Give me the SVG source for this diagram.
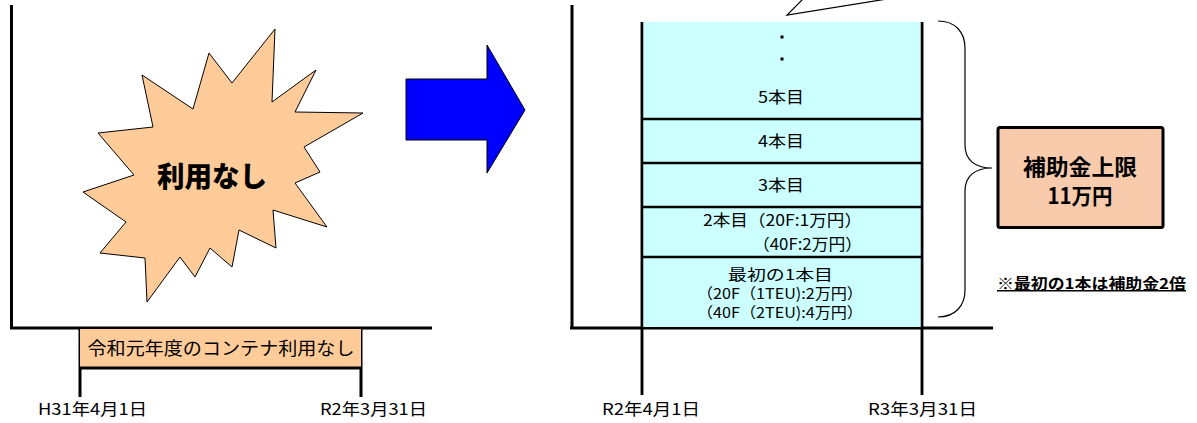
<svg xmlns="http://www.w3.org/2000/svg" width="1197" height="423" viewBox="0 0 1197 423">
<style>
text{font-family:"Noto Sans CJK JP","Liberation Sans",sans-serif;fill:#000}
.t16{font-size:16px}
.t15{font-size:15px}
.lbl{font-size:16px}
.ax{stroke:#000;stroke-width:3;fill:none}
.col{stroke:#000;stroke-width:2.5;fill:none}
.thin{stroke:#000;stroke-width:1.2;fill:none}
.mid{text-anchor:middle}
.b{font-weight:bold}
</style>
<rect width="1197" height="423" fill="#fff"/>
<g id="connectors">
<path class="ax" d="M11.5,5 V328 M10,328 H432"/>
<path class="ax" d="M80,328 V397 M361,328 V397"/>
<path class="ax" d="M572,5 V328 M570,328 H993"/>
<path class="col" d="M642,22 V395 M922,22 V395"/>
<path class="thin" d="M803,-1 L787,15 L887,-1"/>
<path class="thin" d="M938,21 C955,21 965,32 965,48 L965,145 C965,160 975,168 992,168 C975,168 965,176 965,191 L965,290 C965,306 955,317 938,317"/>
</g>
<g id="burst">
<polygon points="275,29 272,102 316,70 295,112 363,113 304,147 320,172 295,183 327,227 273,210 276,248 239,230 232,267 210,248 195,277 180,257 147,302 145,258 100,253 126,222 83,192 134,175 98,133 153,127 142,75 193,109 209,53 232,83" fill="#FFCC99" stroke="#000" stroke-width="1"/>
<text x="212" y="187" class="mid" font-weight="900" font-size="28" textLength="110" lengthAdjust="spacingAndGlyphs">利用なし</text>
</g>
<g id="nouse-bar">
<rect x="80" y="329" width="281" height="39" fill="#FFCC99"/>
<path class="ax" d="M80,368 H361"/>
<text x="221" y="355" class="mid" font-size="18" textLength="267" lengthAdjust="spacingAndGlyphs">令和元年度のコンテナ利用なし</text>
</g>
<g id="dates-left">
<text x="38" y="415" class="lbl" textLength="109" lengthAdjust="spacingAndGlyphs">H31年4月1日</text>
<text x="320" y="415" class="lbl" textLength="107" lengthAdjust="spacingAndGlyphs">R2年3月31日</text>
</g>
<g id="arrow">
<polygon points="406,79 487,79 487,45 525,110 487,173 487,140 406,140" fill="#0000FF" stroke="#000" stroke-width="1"/>
</g>
<g id="column">
<rect x="643" y="22" width="278" height="305" fill="#CCFFFF"/>
<path class="col" d="M642,22 V395 M922,22 V395 M642,119 H922 M642,163 H922 M642,207 H922 M642,257 H922"/>
<rect x="780.5" y="35.5" width="3" height="3" fill="#000"/>
<rect x="780.5" y="57.5" width="3" height="3" fill="#000"/>
<text x="781" y="103" class="t16 mid" textLength="46" lengthAdjust="spacingAndGlyphs">5本目</text>
<text x="781" y="147" class="t16 mid" textLength="46" lengthAdjust="spacingAndGlyphs">4本目</text>
<text x="781" y="191" class="t16 mid" textLength="46" lengthAdjust="spacingAndGlyphs">3本目</text>
<text x="703" y="226" class="t16" textLength="159" lengthAdjust="spacingAndGlyphs">2本目（20F:1万円）</text>
<text x="753" y="250" class="t16" textLength="109" lengthAdjust="spacingAndGlyphs">（40F:2万円）</text>
<text x="728" y="280" class="t15" textLength="105" lengthAdjust="spacingAndGlyphs">最初の1本目</text>
<text x="697" y="299" class="t15" textLength="166" lengthAdjust="spacingAndGlyphs">（20F（1TEU):2万円）</text>
<text x="697" y="318" class="t15" textLength="166" lengthAdjust="spacingAndGlyphs">（40F（2TEU):4万円）</text>
</g>
<g id="dates-right">
<text x="602" y="415" class="lbl" textLength="98" lengthAdjust="spacingAndGlyphs">R2年4月1日</text>
<text x="868" y="415" class="lbl" textLength="109" lengthAdjust="spacingAndGlyphs">R3年3月31日</text>
</g>
<g id="limit-box">
<rect x="998" y="127.5" width="165" height="100" rx="2" fill="#F8CBAD" stroke="#000" stroke-width="3"/>
<text x="1080" y="175" class="mid b" font-size="22" textLength="114" lengthAdjust="spacingAndGlyphs">補助金上限</text>
<text x="1080" y="204" class="mid b" font-size="22" textLength="65" lengthAdjust="spacingAndGlyphs">11万円</text>
</g>
<g id="note">
<text x="997" y="289" class="b" font-size="15" text-decoration="underline" textLength="189" lengthAdjust="spacingAndGlyphs">※最初の1本は補助金2倍</text>
</g>
</svg>
